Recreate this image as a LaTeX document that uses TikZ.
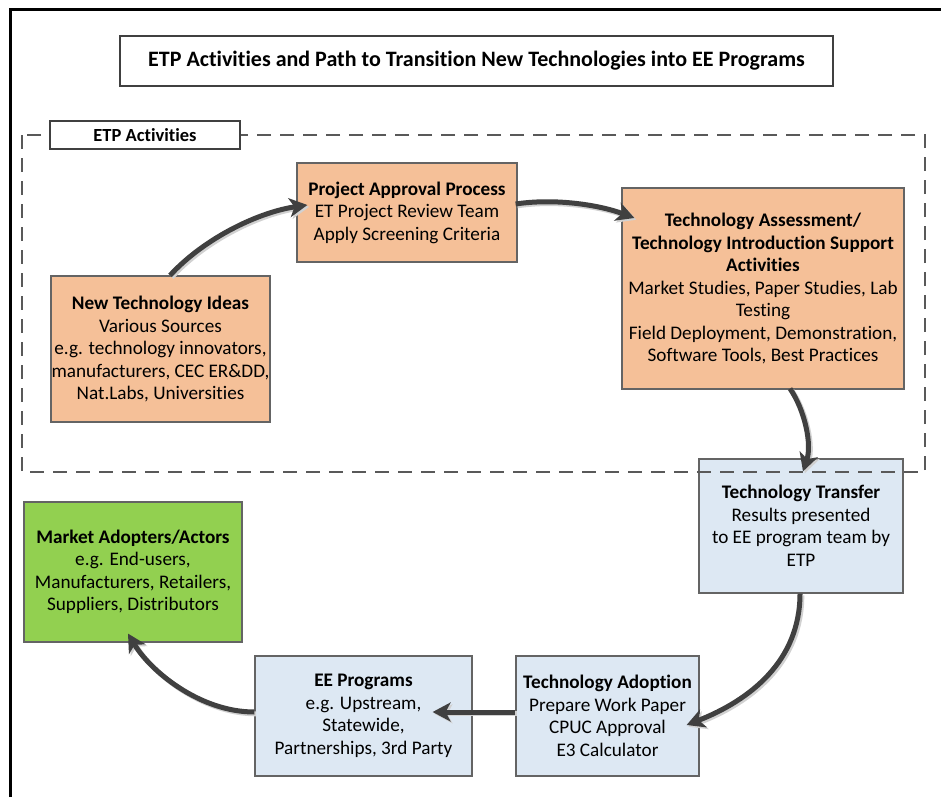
\documentclass[tikz,border=0pt]{standalone}
\usepackage{fontspec}
\setmainfont{Carlito}[Ligatures=NoCommon]
\usetikzlibrary{arrows.meta}
\definecolor{orangebox}{RGB}{245,192,152}
\definecolor{bluebox}{RGB}{221,232,243}
\definecolor{greenbox}{RGB}{146,208,80}
\definecolor{arrowgray}{RGB}{64,64,64}
\definecolor{bordergray}{RGB}{100,100,100}
\begin{document}
\begin{tikzpicture}[x=1pt,y=-1pt,
  box/.style={draw=bordergray, line width=1.2pt, align=center, inner sep=0pt,
    font=\fontsize{19.2}{22.5}\selectfont},
  orangestep/.style={box, fill=orangebox},
  bluestep/.style={box, fill=bluebox},
  greenstep/.style={box, fill=greenbox},
  titlebox/.style={draw=arrowgray, line width=1.8pt, fill=white, inner sep=0pt,
    font=\fontsize{22}{26}\selectfont\bfseries},
  labelbox/.style={draw=arrowgray, line width=1.8pt, fill=white, inner sep=0pt,
    font=\fontsize{18.5}{22}\selectfont\bfseries},
  dashbox/.style={draw=black!65, line width=1.8pt, dash pattern=on 14pt off 9pt},
  flow/.style={draw=arrowgray, line width=5pt,
    -{Stealth[length=18pt,width=19pt,inset=5pt]}},
  flowshadow/.style={draw=black!18, line width=5pt,
    -{Stealth[length=18pt,width=19pt,inset=5pt]},
    transform canvas={xshift=1.8pt,yshift=-1.8pt}}
]
\useasboundingbox (0,0) rectangle (941,797);
\fill[white] (0,0) rectangle (941,797);
% outer frame
\draw[line width=3pt] (10,797) -- (10,10) -- (941,10);

\node[titlebox, minimum width=713pt, minimum height=50pt] (title) at (476.5,61)
  {ETP Activities and Path to Transition New Technologies into EE Programs};

\node[orangestep, minimum width=220pt, minimum height=99pt] (proj) at (407,212.5)
  {\textbf{Project Approval Process}\\ET Project Review Team\\Apply Screening Criteria};
\node[orangestep, minimum width=219pt, minimum height=146pt] (ideas) at (160.5,349)
  {\textbf{New Technology Ideas}\\Various Sources\\e.g. technology innovators,\\manufacturers, CEC ER\&DD,\\Nat.Labs, Universities};
\node[orangestep, minimum width=282pt, minimum height=201pt] (assess) at (763,288.5)
  {\textbf{Technology Assessment/}\\\textbf{Technology Introduction Support}\\\textbf{Activities}\\Market Studies, Paper Studies, Lab\\Testing\\Field Deployment, Demonstration,\\Software Tools, Best Practices};
\node[bluestep, minimum width=204pt, minimum height=134pt] (transfer) at (801,526)
  {\textbf{Technology Transfer}\\Results presented\\to EE program team by\\ETP};
\node[greenstep, minimum width=218pt, minimum height=140pt] (market) at (133,572)
  {\textbf{Market Adopters/Actors}\\e.g. End-users,\\Manufacturers, Retailers,\\Suppliers, Distributors};
\node[bluestep, minimum width=217pt, minimum height=120pt] (ee) at (363.5,716)
  {\textbf{EE Programs}\\e.g. Upstream,\\Statewide,\\Partnerships, 3rd Party};
\node[bluestep, minimum width=183pt, minimum height=120pt] (adopt) at (607.5,716)
  {\textbf{Technology Adoption}\\Prepare Work Paper\\CPUC Approval\\E3 Calculator};

% dashed region
\draw[dashbox] (22,135) rectangle (925,472);
\node[labelbox, minimum width=190pt, minimum height=28pt] (label) at (145,135) {ETP Activities};

% connectors: shadows
\draw[flowshadow] ([xshift=9.5pt]ideas.north) .. controls +(35,-38) and +(-48,7) .. ([xshift=11pt,yshift=7.5pt]proj.west);
\draw[flowshadow] ([xshift=-2pt,yshift=8.5pt]proj.east) .. controls +(40,-6) and +(-35,-13) .. ([xshift=13pt,yshift=70.5pt]assess.west);
\draw[flowshadow] ([xshift=27pt,yshift=1pt]assess.south) .. controls +(15,22) and +(9,-27) .. ([xshift=2pt,yshift=-13pt]transfer.north);
\draw[flowshadow] ([xshift=-1pt]transfer.south) .. controls +(0,67) and +(64,-25) .. ([xshift=-13pt,yshift=-9pt]adopt.east);
\draw[flowshadow] ([yshift=4pt]adopt.west) -- ([xshift=-40pt,yshift=4pt]ee.east);
\draw[flowshadow] ([yshift=4pt]ee.west) .. controls +(-55,0) and +(22,37) .. ([xshift=-5pt,yshift=9pt]market.south);
% connectors
\draw[flow] ([xshift=9.5pt]ideas.north) .. controls +(35,-38) and +(-48,7) .. ([xshift=11pt,yshift=7.5pt]proj.west);
\draw[flow] ([xshift=-2pt,yshift=8.5pt]proj.east) .. controls +(40,-6) and +(-35,-13) .. ([xshift=13pt,yshift=70.5pt]assess.west);
\draw[flow] ([xshift=27pt,yshift=1pt]assess.south) .. controls +(15,22) and +(9,-27) .. ([xshift=2pt,yshift=-13pt]transfer.north);
\draw[flow] ([xshift=-1pt]transfer.south) .. controls +(0,67) and +(64,-25) .. ([xshift=-13pt,yshift=-9pt]adopt.east);
\draw[flow] ([yshift=4pt]adopt.west) -- ([xshift=-40pt,yshift=4pt]ee.east);
\draw[flow] ([yshift=4pt]ee.west) .. controls +(-55,0) and +(22,37) .. ([xshift=-5pt,yshift=9pt]market.south);
\end{tikzpicture}
\end{document}
